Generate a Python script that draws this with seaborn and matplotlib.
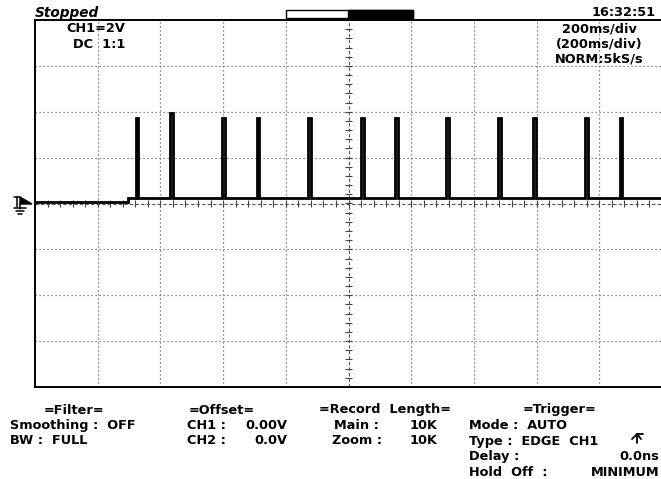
import numpy as np
import pandas as pd
import matplotlib
matplotlib.use("Agg")
import matplotlib.pyplot as plt
from matplotlib.patches import Rectangle, Polygon
from matplotlib.lines import Line2D
import seaborn as sns

# Acquisition window: 10 divisions at 200 ms/div, 8 divisions at 2 V/div
time_per_div = 200          # ms
volt_per_div = 2            # V
n_hdiv, n_vdiv = 10, 8

# CH1 trace: baseline step followed by a train of narrow pulses
step_time = -703            # ms
level_before = 0.08         # V
level_after = 0.26          # V
pulse_times = [-678, -569, -403, -292, -129, 40, 149, 311, 477, 589, 755, 866]   # ms (leading edge)
pulse_heights = [3.72, 3.95, 3.72, 3.72, 3.72, 3.72, 3.72, 3.72, 3.72, 3.72, 3.72, 3.72]  # V
pulse_width = 8             # ms

# Status / settings text
status_text = "Stopped"
clock_text = "16:32:51"
ch_info = ["CH1=2V", "DC  1:1"]
time_info = ["200ms/div", "(200ms/div)", "NORM:5kS/s"]

W, H = 661, 479
t_lo = -time_per_div * n_hdiv / 2
t_hi = time_per_div * n_hdiv / 2
v_lo = -volt_per_div * n_vdiv / 2
v_hi = volt_per_div * n_vdiv / 2

# Build the sampled waveform as an ordered table of (t, v) vertices
ts, vs = [t_lo, step_time, step_time], [level_before, level_before, level_after]
for t0, h in zip(pulse_times, pulse_heights):
    ts += [t0, t0, t0 + pulse_width, t0 + pulse_width]
    vs += [level_after, h, h, level_after]
ts.append(t_hi)
vs.append(level_after)
trace = pd.DataFrame({"t": ts, "v": vs})

sns.set_style("white")
plt.rcParams["font.family"] = ["DejaVu Sans"]

fig = plt.figure(figsize=(W / 100, H / 100), dpi=100)
fig.patch.set_facecolor("white")


def fx(x):
    return x / W


def fy(y):
    return 1 - y / H


left, top, right, bottom = 35, 20, 662, 387
ax = fig.add_axes([fx(left), fy(bottom), (right - left) / W, (bottom - top) / H])
ax.set_xlim(t_lo, t_hi)
ax.set_ylim(v_lo, v_hi)
ax.set_xticks([])
ax.set_yticks([])
for s in ax.spines.values():
    s.set_color("black")
    s.set_linewidth(1.4)
ax.spines["right"].set_visible(False)

# Dotted graticule
grid_kw = dict(color="#666666", lw=0.9, ls=(0, (1.0, 2.2)), zorder=1)
for k in range(1, n_hdiv):
    t = t_lo + k * time_per_div
    if k != n_hdiv // 2:
        ax.axvline(t, **grid_kw)
for k in range(1, n_vdiv):
    v = v_lo + k * volt_per_div
    if k != n_vdiv // 2:
        ax.axhline(v, **grid_kw)

# Centre axes with minor ticks every 0.2 div
ax.axhline(0, color="#555555", lw=0.8, ls=(0, (3, 2)), zorder=1)
ax.axvline(0, color="#555555", lw=0.8, ls=(0, (3, 2)), zorder=1)
minor_t = np.arange(t_lo, t_hi + 1, time_per_div / 5)
ax.vlines(minor_t, -0.15, 0.15, color="#444444", lw=0.8, zorder=1)
minor_v = np.arange(v_lo, v_hi + 0.01, volt_per_div / 5)
ax.hlines(minor_v, -12, 12, color="#444444", lw=0.8, zorder=1)

# CH1 trace
sns.lineplot(data=trace, x="t", y="v", sort=False, estimator=None,
             color="black", linewidth=2.0, solid_joinstyle="miter",
             solid_capstyle="butt", ax=ax, zorder=3)
ax.set_xlabel("")
ax.set_ylabel("")

# Ground-level marker on the left edge
lk = dict(color="black", lw=1.1)
fig.add_artist(Line2D([fx(17), fx(17)], [fy(197), fy(207)], **lk))
fig.add_artist(Line2D([fx(14), fx(20)], [fy(197), fy(197)], **lk))
fig.add_artist(Polygon([[fx(20), fy(197)], [fx(32), fy(204)], [fx(20), fy(204)]],
                       closed=True, color="black", transform=fig.transFigure))
fig.add_artist(Line2D([fx(20), fx(20)], [fy(204), fy(209)], **lk))
for yy, half in [(208, 6), (211, 4), (214, 2)]:
    fig.add_artist(Line2D([fx(20 - half), fx(20 + half)], [fy(yy), fy(yy)], **lk))

txt = dict(fontweight="bold", fontsize=9.3, color="black")

# Header
fig.text(fx(35), fy(13), status_text, ha="left", va="center",
         fontstyle="italic", fontweight="bold", fontsize=9.8, color="black")
fig.text(fx(656), fy(13), clock_text, ha="right", va="center", **txt)
fig.add_artist(Rectangle((fx(286), fy(18)), (413 - 286) / W, 8 / H,
                         transform=fig.transFigure, facecolor="white",
                         edgecolor="black", lw=1.0))
fig.add_artist(Rectangle((fx(348), fy(18)), (413 - 348) / W, 8 / H,
                         transform=fig.transFigure, facecolor="black",
                         edgecolor="black", lw=1.0))

# In-screen annotations
fig.text(fx(66), fy(29), ch_info[0], ha="left", va="center", **txt)
fig.text(fx(73), fy(44), ch_info[1], ha="left", va="center", **txt)
for yy, s in zip([29, 44, 59], time_info):
    fig.text(fx(599), fy(yy), s, ha="center", va="center", **txt)

# Settings panel below the screen
rows = [410, 425.5, 441, 456.5, 472]
fig.text(fx(74), fy(rows[0]), "=Filter=", ha="center", va="center", **txt)
fig.text(fx(10), fy(rows[1]), "Smoothing :  OFF", ha="left", va="center", **txt)
fig.text(fx(10), fy(rows[2]), "BW :  FULL", ha="left", va="center", **txt)

fig.text(fx(222), fy(rows[0]), "=Offset=", ha="center", va="center", **txt)
fig.text(fx(187), fy(rows[1]), "CH1 :", ha="left", va="center", **txt)
fig.text(fx(287), fy(rows[1]), "0.00V", ha="right", va="center", **txt)
fig.text(fx(187), fy(rows[2]), "CH2 :", ha="left", va="center", **txt)
fig.text(fx(287), fy(rows[2]), "0.0V", ha="right", va="center", **txt)

fig.text(fx(385), fy(rows[0]), "=Record  Length=", ha="center", va="center", **txt)
fig.text(fx(334), fy(rows[1]), "Main :", ha="left", va="center", **txt)
fig.text(fx(437), fy(rows[1]), "10K", ha="right", va="center", **txt)
fig.text(fx(332), fy(rows[2]), "Zoom :", ha="left", va="center", **txt)
fig.text(fx(437), fy(rows[2]), "10K", ha="right", va="center", **txt)

fig.text(fx(560), fy(rows[0]), "=Trigger=", ha="center", va="center", **txt)
fig.text(fx(469), fy(rows[1]), "Mode :  AUTO", ha="left", va="center", **txt)
fig.text(fx(469), fy(rows[2]), "Type :  EDGE  CH1", ha="left", va="center", **txt)
fig.text(fx(469), fy(rows[3]), "Delay :", ha="left", va="center", **txt)
fig.text(fx(659), fy(rows[3]), "0.0ns", ha="right", va="center", **txt)
fig.text(fx(469), fy(rows[4]), "Hold  Off  :", ha="left", va="center", **txt)
fig.text(fx(659), fy(rows[4]), "MINIMUM", ha="right", va="center", **txt)

# Rising-edge trigger glyph
ek = dict(color="black", lw=1.3)
fig.add_artist(Line2D([fx(637), fx(637), fx(643)], [fy(443), fy(434), fy(434)], **ek))
fig.add_artist(Line2D([fx(632), fx(637), fx(641)], [fy(439), fy(434), fy(439)], **ek))

fig.savefig("out.png", dpi=100, facecolor="white")
